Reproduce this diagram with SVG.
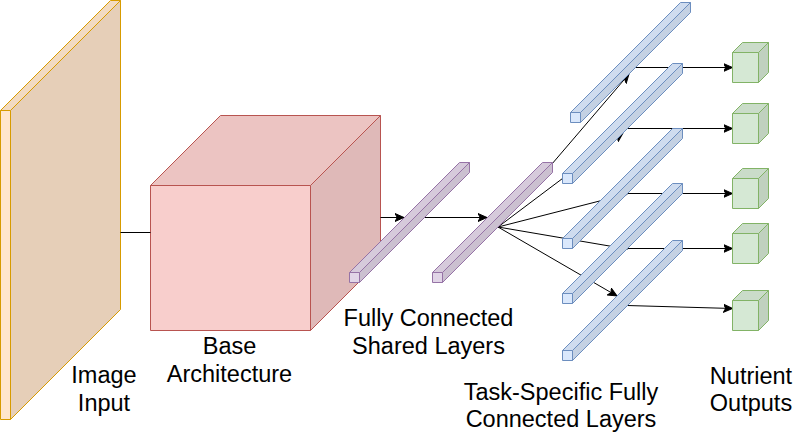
<svg xmlns="http://www.w3.org/2000/svg" width="800" height="446" viewBox="0 0 800 446">
<style>
.or .f{fill:#FFE6CC}.or .t{fill:#F2DBC2}.or .r{fill:#E6CFB8}.or *{stroke:#D79B00}
.rd .f{fill:#F8CECC}.rd .t{fill:#ECC4C2}.rd .r{fill:#DFB9B8}.rd *{stroke:#B85450}
.pu .f{fill:#E1D5E7}.pu .t{fill:#D6CADB}.pu .r{fill:#CBC0D0}.pu *{stroke:#9673A6}
.bl .f{fill:#DAE8FC}.bl .t{fill:#CFDCEF}.bl .r{fill:#C4D1E3}.bl *{stroke:#6C8EBF}
.gr .f{fill:#D5E8D4}.gr .t{fill:#CADCC9}.gr .r{fill:#C0D1BF}.gr *{stroke:#82B366}
.n *{stroke-width:1;stroke-linejoin:round}
.e{fill:none;stroke:#000;stroke-width:1}
.a{marker-end:url(#arr)}
text{font-family:"Liberation Sans",Arial,Helvetica,sans-serif;font-size:23.5px;fill:#000;text-anchor:middle}
</style>
<defs>
<marker id="arr" viewBox="0 0 10 10" refX="9" refY="5" markerWidth="10" markerHeight="10" markerUnits="userSpaceOnUse" orient="auto">
<path d="M0,1 L9,5 L0,9 L2.25,5 Z" fill="#000" stroke="#000" stroke-width="1"/>
</marker>
</defs>

<g id="image-input" class="n or">
<rect class="f" x="0.5" y="110.5" width="10" height="309"/>
<polygon class="t" points="0.5,110.5 110.5,0.5 120.5,0.5 10.5,110.5"/>
<polygon class="r" points="10.5,110.5 120.5,0.5 120.5,309.5 10.5,419.5"/>
</g>

<g id="base-architecture" class="n rd">
<rect class="f" x="150.5" y="185.5" width="160" height="145"/>
<polygon class="t" points="150.5,185.5 220.5,115.5 380.5,115.5 310.5,185.5"/>
<polygon class="r" points="310.5,185.5 380.5,115.5 380.5,260.5 310.5,330.5"/>
</g>

<g id="connectors">
<line class="e" x1="120.5" y1="232.5" x2="150.5" y2="232.5"/>
<line class="e a" x1="380.5" y1="217.5" x2="404" y2="217.5"/>
<line class="e a" x1="424" y1="217.5" x2="487" y2="217.5"/>
<line class="e a" x1="498" y1="227" x2="629" y2="74"/>
<line class="e a" x1="498" y1="227" x2="623" y2="133"/>
<line class="e a" x1="498" y1="227" x2="627" y2="194"/>
<line class="e a" x1="498" y1="227" x2="627" y2="249"/>
<line class="e a" x1="498" y1="227" x2="617" y2="296"/>
<line class="e a" x1="634" y1="67.5" x2="732.5" y2="67.5"/>
<line class="e a" x1="627" y1="128.5" x2="732.5" y2="128.5"/>
<line class="e a" x1="627" y1="193.5" x2="732.5" y2="193.5"/>
<line class="e a" x1="627" y1="248.5" x2="732.5" y2="248.5"/>
<line class="e a" x1="627" y1="305.5" x2="732.5" y2="308.5"/>
</g>

<g id="shared-1" class="n pu">
<rect class="f" x="349.5" y="272.5" width="10" height="10"/>
<polygon class="t" points="349.5,272.5 459.5,162.5 469.5,162.5 359.5,272.5"/>
<polygon class="r" points="359.5,272.5 469.5,162.5 469.5,172.5 359.5,282.5"/>
</g>
<g id="shared-2" class="n pu">
<rect class="f" x="432.5" y="272.5" width="10" height="10"/>
<polygon class="t" points="432.5,272.5 542.5,162.5 552.5,162.5 442.5,272.5"/>
<polygon class="r" points="442.5,272.5 552.5,162.5 552.5,172.5 442.5,282.5"/>
</g>

<g id="task-1" class="n bl">
<rect class="f" x="570.5" y="112.5" width="10" height="10"/>
<polygon class="t" points="570.5,112.5 680.5,2.5 690.5,2.5 580.5,112.5"/>
<polygon class="r" points="580.5,112.5 690.5,2.5 690.5,12.5 580.5,122.5"/>
</g>
<g id="task-2" class="n bl">
<rect class="f" x="562.5" y="173.5" width="10" height="10"/>
<polygon class="t" points="562.5,173.5 672.5,63.5 682.5,63.5 572.5,173.5"/>
<polygon class="r" points="572.5,173.5 682.5,63.5 682.5,73.5 572.5,183.5"/>
</g>
<g id="task-3" class="n bl">
<rect class="f" x="562.5" y="238.5" width="10" height="10"/>
<polygon class="t" points="562.5,238.5 672.5,128.5 682.5,128.5 572.5,238.5"/>
<polygon class="r" points="572.5,238.5 682.5,128.5 682.5,138.5 572.5,248.5"/>
</g>
<g id="task-4" class="n bl">
<rect class="f" x="562.5" y="293.5" width="10" height="10"/>
<polygon class="t" points="562.5,293.5 672.5,183.5 682.5,183.5 572.5,293.5"/>
<polygon class="r" points="572.5,293.5 682.5,183.5 682.5,193.5 572.5,303.5"/>
</g>
<g id="task-5" class="n bl">
<rect class="f" x="562.5" y="350.5" width="10" height="10"/>
<polygon class="t" points="562.5,350.5 672.5,240.5 682.5,240.5 572.5,350.5"/>
<polygon class="r" points="572.5,350.5 682.5,240.5 682.5,250.5 572.5,360.5"/>
</g>

<g id="output-1" class="n gr">
<rect class="f" x="732.5" y="52.5" width="26" height="30"/>
<polygon class="t" points="732.5,52.5 742.5,42.5 768.5,42.5 758.5,52.5"/>
<polygon class="r" points="758.5,52.5 768.5,42.5 768.5,72.5 758.5,82.5"/>
</g>
<g id="output-2" class="n gr">
<rect class="f" x="732.5" y="113.5" width="26" height="30"/>
<polygon class="t" points="732.5,113.5 742.5,103.5 768.5,103.5 758.5,113.5"/>
<polygon class="r" points="758.5,113.5 768.5,103.5 768.5,133.5 758.5,143.5"/>
</g>
<g id="output-3" class="n gr">
<rect class="f" x="732.5" y="178.5" width="26" height="30"/>
<polygon class="t" points="732.5,178.5 742.5,168.5 768.5,168.5 758.5,178.5"/>
<polygon class="r" points="758.5,178.5 768.5,168.5 768.5,198.5 758.5,208.5"/>
</g>
<g id="output-4" class="n gr">
<rect class="f" x="732.5" y="233.5" width="26" height="30"/>
<polygon class="t" points="732.5,233.5 742.5,223.5 768.5,223.5 758.5,233.5"/>
<polygon class="r" points="758.5,233.5 768.5,223.5 768.5,253.5 758.5,263.5"/>
</g>
<g id="output-5" class="n gr">
<rect class="f" x="732.5" y="300.5" width="26" height="30"/>
<polygon class="t" points="732.5,300.5 742.5,290.5 768.5,290.5 758.5,300.5"/>
<polygon class="r" points="758.5,300.5 768.5,290.5 768.5,320.5 758.5,330.5"/>
</g>

<g id="labels">
<text x="104" y="382.5">Image</text>
<text x="104" y="410.5">Input</text>
<text x="229.5" y="353.5">Base</text>
<text x="229.5" y="381.5">Architecture</text>
<text x="428.5" y="326">Fully Connected</text>
<text x="428.5" y="353.5">Shared Layers</text>
<text x="561" y="399.5">Task-Specific Fully</text>
<text x="561" y="427">Connected Layers</text>
<text x="751" y="383.5">Nutrient</text>
<text x="751" y="411">Outputs</text>
</g>
</svg>
